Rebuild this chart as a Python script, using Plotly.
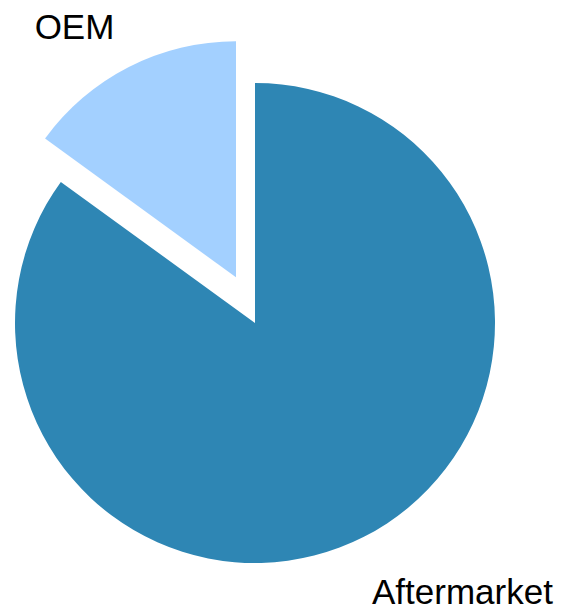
import plotly.graph_objects as go

labels = ["Aftermarket", "OEM"]
values = [85, 15]
colors = ["#2E86B4", "#A3D0FF"]
CLEAR = "rgba(0,0,0,0)"

W, H = 561, 611
FONT = dict(size=35, color="black", family="Liberation Sans, Arial, Helvetica, sans-serif")


def dom(cx, cy, r):
    return dict(x=[(cx - r) / W, (cx + r) / W], y=[(H - (cy + r)) / H, (H - (cy - r)) / H])


def pie(slice_colors, tmpl, domain):
    return go.Pie(
        labels=labels, values=values, sort=False, direction="clockwise", rotation=0,
        marker=dict(colors=slice_colors, line=dict(width=0)),
        texttemplate=tmpl, textposition="outside", textfont=FONT,
        domain=domain, showlegend=False, hoverinfo="none", automargin=False,
    )


fig = go.Figure()
# Aftermarket wedge
fig.add_trace(pie([colors[0], CLEAR], ["", ""], dom(255, 323, 240)))
# exploded OEM wedge
fig.add_trace(pie([CLEAR, colors[1]], ["", ""], dom(236, 277.3, 236)))
# transparent wedges that only carry the outside labels
fig.add_trace(pie([CLEAR, CLEAR], ["", "%{label}"], dom(214.9, 220.1, 200)))
fig.add_trace(pie([CLEAR, CLEAR], ["%{label}", ""], dom(253.3, 362.0, 240)))

fig.update_layout(width=W, height=H, showlegend=False,
                  margin=dict(l=0, r=0, t=0, b=0, pad=0, autoexpand=False),
                  paper_bgcolor="white", plot_bgcolor="white")
fig.write_html("out.html", config={"displayModeBar": False},
               post_script="document.body.style.margin='0px';")
